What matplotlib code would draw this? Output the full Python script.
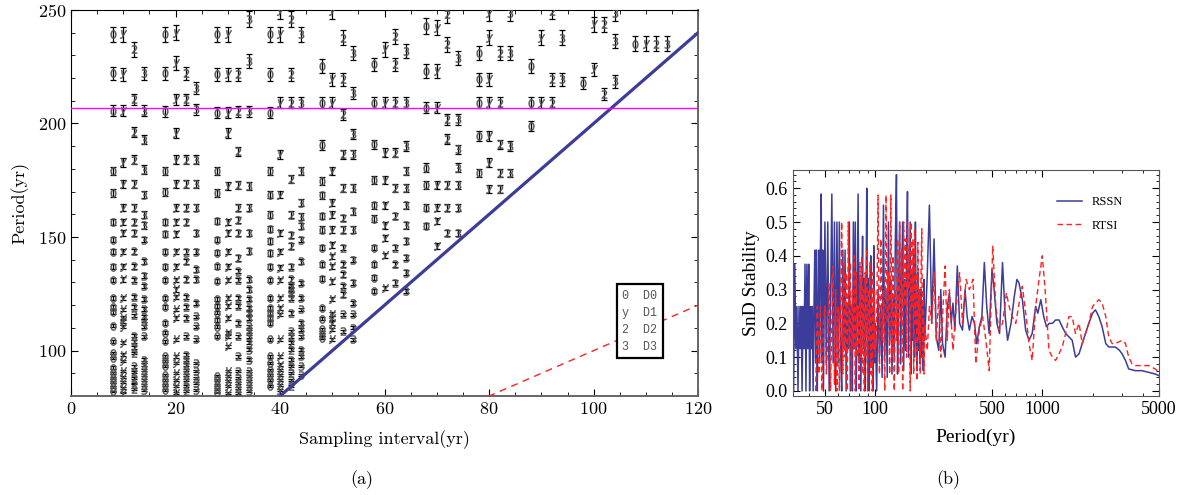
import numpy as np
import matplotlib
matplotlib.use("Agg")
import matplotlib.pyplot as plt
from matplotlib.ticker import MultipleLocator, FixedLocator, LogLocator, NullFormatter

plt.rcParams["font.family"] = "serif"
plt.rcParams["font.serif"] = ["cmr10", "DejaVu Serif"]
plt.rcParams["axes.formatter.use_mathtext"] = True

# ---- (a) periods detected at each sampling interval (yr) ----
D0 = {
    8: [239.2, 222.0, 205.7, 179.0, 169.5, 156.7, 148.9, 143.5, 136.9, 131.0, 123.2, 119.3, 116.9,
        111.0, 104.1, 99.0, 96.8, 92.5, 90.3, 88.0, 86.0, 84.0, 82.0],
    18: [239.2, 222.0, 205.4, 179.0, 169.8, 156.7, 151.5, 143.5, 136.9, 131.0, 123.2, 119.2, 112.2,
         107.8, 104.1, 97.5, 95.3, 93.1, 89.4, 87.2, 85.0, 82.8],
    28: [239.2, 221.6, 204.7, 179.0, 169.5, 157.0, 148.9, 143.1, 137.2, 130.6, 122.6, 119.6, 116.7,
         113.5, 110.5, 106.4, 89.0, 87.0, 85.0, 83.0, 81.5],
    38: [239.2, 221.6, 204.7, 179.0, 168.7, 159.9, 153.6, 148.2, 143.0, 136.9, 131.0, 123.2, 118.8,
         116.6, 114.4, 112.2, 104.9, 97.5, 94.6, 91.6, 89.4, 87.2, 84.3],
    48: [225.3, 209.2, 190.4, 174.6, 168.3, 159.2, 153.3, 145.3, 137.9, 131.7, 118.7, 114.1, 109.3,
         107.1, 105.6],
    58: [226.0, 209.2, 190.8, 175.3, 164.0, 158.1, 145.3, 137.9, 132.1, 126.2],
    68: [242.9, 223.1, 207.0, 180.5, 173.1, 162.8, 154.8],
    78: [231.1, 219.4, 209.2, 194.5, 178.3],
    88: [225.3, 209.2, 198.8],
    98: [217.9],
    108: [235.2],
}
D1 = {
    10: [239.2, 221.6, 205.7, 182.9, 173.4, 162.9, 156.7, 151.8, 143.5, 137.0, 131.3, 123.3, 118.1,
         114.5, 112.9, 110.5, 103.5, 98.2, 95.3, 90.9, 88.5, 86.0, 83.5, 81.5],
    20: [239.9, 226.7, 210.6, 195.9, 184.1, 173.4, 162.9, 156.7, 151.5, 143.5, 136.9, 131.0, 126.9,
         123.6, 118.1, 114.4, 104.9, 97.5, 94.6, 90.2, 87.2, 84.3, 81.4],
    30: [239.2, 221.6, 204.7, 195.9, 172.4, 156.7, 151.8, 143.5, 136.9, 131.0, 123.2, 119.5, 114.4,
         107.8, 106.3, 101.9, 90.9, 88.7, 86.5, 84.3, 81.4],
    40: [249.5, 239.2, 209.2, 186.4, 168.7, 151.8, 143.5, 136.4, 131.0, 123.2, 118.8, 115.9, 104.9,
         97.5, 93.8, 91.6, 89.4, 87.2, 85.0, 82.8],
    50: [249.5, 219.4, 209.2, 179.0, 165.1, 159.9, 153.3, 146.5, 141.5, 137.2, 130.5, 122.5, 116.0,
         114.4, 112.2, 109.3, 104.9],
    60: [232.6, 209.2, 187.1, 175.3, 164.0, 155.1, 149.4, 142.0, 127.6],
    70: [242.2, 223.1, 207.0, 173.1, 162.8, 157.0, 146.0],
    80: [248.8, 237.8, 219.4, 209.2, 194.5, 182.8, 171.0],
    90: [237.8, 209.2],
    100: [243.6, 223.8],
    110: [235.2],
}
D2 = {
    12: [232.6, 210.6, 196.2, 184.1, 173.4, 162.9, 156.7, 151.8, 143.7, 137.1, 131.0, 123.6, 119.2,
         115.5, 106.5, 104.0, 101.5, 99.0, 93.0, 90.5, 88.0, 85.5, 83.0],
    22: [222.0, 210.6, 184.1, 173.4, 162.9, 156.7, 143.5, 139.4, 131.3, 123.6, 119.2, 114.4, 106.3,
         98.2, 96.0, 93.8, 91.6, 89.4, 87.2, 84.3, 82.1],
    32: [221.6, 205.4, 187.8, 173.1, 162.9, 157.5, 151.8, 140.8, 135.0, 131.0, 123.2, 119.5, 112.2,
         106.3, 97.5, 90.9, 88.0, 85.7, 83.6, 81.4],
    42: [245.8, 221.6, 209.2, 175.7, 159.9, 151.1, 146.0, 136.9, 131.3, 128.4, 126.9, 125.4, 123.2,
         116.6, 108.5, 106.3, 103.4, 100.4, 96.0, 93.1, 90.2, 87.2, 84.5],
    52: [237.8, 219.4, 204.0, 186.4, 171.7, 158.4, 153.3, 145.3, 137.9, 133.5, 128.4, 124.7, 115.9,
         108.5],
    62: [238.5, 226.0, 209.2, 187.1, 171.7, 159.2, 145.3, 137.9, 129.9],
    72: [248.0, 234.8, 201.8, 193.0, 173.1, 162.8, 151.9],
    82: [231.1, 209.2, 190.8, 178.3, 171.0],
    92: [249.5, 219.4, 209.2],
    102: [243.6, 212.8],
    112: [235.2],
}
D3 = {
    14: [222.0, 205.7, 192.9, 179.7, 168.7, 159.9, 155.1, 148.9, 139.4, 133.0, 128.4, 122.5, 118.4,
         114.7, 113.2, 110.7, 106.3, 96.0, 93.8, 91.6, 89.4, 87.2, 85.0, 82.8],
    24: [215.7, 206.2, 184.1, 173.4, 162.9, 151.8, 143.5, 135.7, 131.3, 121.0, 115.1, 110.7, 104.9,
         94.6, 90.9, 88.0, 85.7, 82.8],
    34: [245.8, 227.5, 205.4, 172.4, 162.9, 151.8, 143.8, 131.3, 126.9, 122.5, 118.8, 116.6, 114.4,
         110.7, 108.5, 106.3, 103.4, 100.4, 96.0, 90.9, 88.7, 86.5, 84.3, 82.1],
    44: [239.2, 209.2, 179.0, 165.1, 159.0, 154.8, 148.9, 139.4, 129.8, 123.2, 118.1, 112.2, 109.3,
         106.3, 100.4, 97.5, 93.1, 89.4],
    54: [231.1, 213.5, 195.2, 186.4, 171.7, 161.4, 153.3, 140.1, 129.9, 121.1, 115.9, 110.1, 105.0],
    64: [231.9, 209.2, 190.1, 179.0, 171.7, 164.0, 155.1, 148.1, 140.9, 134.3, 126.2],
    74: [228.9, 201.8, 188.6, 180.5, 173.1, 162.8, 151.9],
    84: [248.8, 231.1, 190.1, 178.3],
    94: [237.8, 219.4],
    104: [248.8, 236.3, 218.6],
    114: [235.2],
}
SERIES = [("D0", "$0$", D0), ("D1", "$y$", D1), ("D2", "$2$", D2), ("D3", "$3$", D3)]
ERR_SCALE = 5.8e-5      # period resolution ~ k * P^2
REF_PERIOD = 207        # magenta line
NYQ_RATIO = 2           # blue line: period = 2 * interval
EQ_RATIO = 1            # red dashed: period = interval

# ---- (b) SnD stability vs period ----
RSSN_GRID = np.concatenate([np.arange(32, 50, 0.5), np.arange(50, 100, 1), np.arange(100, 200, 2)])
RSSN_GRID_V = [
    0.375, 0.0, 0.375, 0.125, 0.25, 0.0, 0.25, 0.125, 0.25, 0.0,
    0.25, 0.125, 0.375, 0.0, 0.375, 0.125, 0.375, 0.0, 0.25, 0.125,
    0.25, 0.0, 0.25, 0.417, 0.083, 0.417, 0.0, 0.25, 0.417, 0.083,
    0.417, 0.583, 0.083, 0.417, 0.0, 0.25,
    0.5, 0.083, 0.5, 0.0, 0.25, 0.583, 0.083, 0.5, 0.0, 0.5,
    0.083, 0.5, 0.125, 0.0, 0.417, 0.125, 0.417, 0.0, 0.25, 0.125,
    0.5, 0.0, 0.25, 0.0, 0.5, 0.125, 0.5, 0.0, 0.25, 0.583,
    0.083, 0.333, 0.0, 0.25, 0.458, 0.125, 0.333, 0.0, 0.25, 0.6,
    0.083, 0.333, 0.0, 0.167, 0.4, 0.083, 0.25, 0.0, 0.43, 0.083,
    0.2, 0.0, 0.3, 0.1, 0.25, 0.04, 0.55, 0.1, 0.3, 0.04,
    0.5, 0.15, 0.33, 0.05, 0.28, 0.1, 0.45, 0.64, 0.05, 0.3,
    0.5, 0.08, 0.35, 0.5, 0.06, 0.33, 0.12, 0.4, 0.59, 0.1,
    0.3, 0.5, 0.05, 0.35, 0.15, 0.42, 0.1, 0.5, 0.2, 0.06,
    0.35, 0.12, 0.28, 0.08, 0.3, 0.1, 0.25, 0.06, 0.33, 0.15,
]
RSSN_TAIL_P = [205, 211, 218, 225, 232, 240, 247, 253, 262, 270, 278, 285, 292, 300, 310, 320, 333,
               345, 355, 366, 380, 393, 405, 420, 435, 450, 465, 481, 500, 515, 535, 555, 578, 600,
               620, 650, 680, 705, 725, 760, 795, 833, 870, 913, 940, 980, 1020, 1060, 1100, 1150,
               1201, 1260, 1316, 1380, 1443, 1510, 1581, 1660, 1733, 1815, 1899, 2000, 2081, 2180,
               2281, 2400, 2500, 2739, 2900, 3002, 3150, 3290, 3606, 3952, 4331, 4746, 5000]
RSSN_TAIL_V = [0.35, 0.55, 0.2, 0.45, 0.16, 0.12, 0.3, 0.14, 0.1, 0.25, 0.29, 0.2, 0.26, 0.18, 0.37,
               0.2, 0.18, 0.3, 0.22, 0.18, 0.22, 0.2, 0.14, 0.19, 0.22, 0.38, 0.25, 0.17, 0.36, 0.3,
               0.2, 0.17, 0.38, 0.22, 0.15, 0.2, 0.28, 0.33, 0.32, 0.27, 0.18, 0.15, 0.17, 0.25, 0.23,
               0.27, 0.22, 0.19, 0.2, 0.2, 0.21, 0.21, 0.19, 0.17, 0.16, 0.15, 0.1, 0.11, 0.14, 0.17,
               0.2, 0.23, 0.24, 0.22, 0.19, 0.14, 0.13, 0.13, 0.12, 0.11, 0.09, 0.065, 0.06, 0.06,
               0.055, 0.05, 0.045]

RTSI_GRID = np.concatenate([np.arange(44, 100, 1), np.arange(100, 200, 2)])
RTSI_GRID_V = [
    0.0, 0.25, 0.05, 0.25, 0.0, 0.2,
    0.25, 0.05, 0.15, 0.32, 0.0, 0.2, 0.37, 0.02, 0.3, 0.0,
    0.25, 0.0, 0.2, 0.5, 0.05, 0.38, 0.1, 0.35, 0.0, 0.5,
    0.13, 0.38, 0.0, 0.3, 0.12, 0.4, 0.0, 0.35, 0.1, 0.25,
    0.0, 0.38, 0.1, 0.4, 0.05, 0.3, 0.0, 0.35, 0.1, 0.42,
    0.0, 0.3, 0.15, 0.38, 0.05, 0.25, 0.0, 0.35, 0.12, 0.3,
    0.1, 0.2, 0.58, 0.05, 0.45, 0.15, 0.3, 0.0, 0.58, 0.2,
    0.35, 0.05, 0.58, 0.1, 0.4, 0.0, 0.3, 0.15, 0.45, 0.05,
    0.5, 0.2, 0.42, 0.0, 0.5, 0.25, 0.45, 0.1, 0.5, 0.3,
    0.42, 0.0, 0.5, 0.25, 0.45, 0.05, 0.48, 0.2, 0.35, 0.03,
    0.44, 0.15, 0.3, 0.05, 0.35, 0.48, 0.1, 0.3, 0.05, 0.2,
]
RTSI_TAIL_P = [205, 211, 218, 225, 232, 240, 247, 253, 262, 270, 278, 292, 305, 320, 333, 350, 366,
               385, 400, 420, 439, 460, 481, 505, 527, 550, 578, 610, 633, 660, 694, 727, 760, 800,
               833, 870, 913, 950, 1000, 1040, 1096, 1150, 1201, 1260, 1316, 1380, 1443, 1510, 1581,
               1660, 1733, 1815, 1899, 2000, 2081, 2181, 2281, 2400, 2500, 2620, 2739, 3002, 3150,
               3290, 3450, 3606, 3952, 4331, 4746, 5000]
RTSI_TAIL_V = [0.12, 0.25, 0.2, 0.35, 0.15, 0.28, 0.1, 0.22, 0.37, 0.15, 0.3, 0.12, 0.25, 0.35, 0.2,
               0.33, 0.3, 0.33, 0.08, 0.18, 0.22, 0.15, 0.06, 0.43, 0.25, 0.18, 0.2, 0.29, 0.25,
               0.22, 0.2, 0.26, 0.31, 0.22, 0.14, 0.09, 0.25, 0.32, 0.4, 0.3, 0.12, 0.1, 0.09, 0.11,
               0.13, 0.17, 0.22, 0.22, 0.17, 0.2, 0.14, 0.17, 0.2, 0.25, 0.26, 0.27, 0.26, 0.22,
               0.16, 0.14, 0.14, 0.15, 0.14, 0.1, 0.08, 0.075, 0.075, 0.075, 0.065, 0.055]

BLUE = "#3c3c9a"
RED = "#ff2020"


def draw_intervals(ax):
    for label, mk, table in SERIES:
        xs, ys = [], []
        for interval, periods in table.items():
            xs += [interval] * len(periods)
            ys += periods
        ys = np.array(ys)
        ax.errorbar(xs, ys, yerr=ERR_SCALE * ys ** 2, fmt="none", ecolor="black",
                    elinewidth=0.9, capsize=2.2, capthick=0.9, zorder=3)
        ax.plot(xs, ys, ls="none", marker=mk, color="#555555", ms=6, mew=0.3, zorder=4)

    xl = np.array([0, 125])
    ax.plot(xl, NYQ_RATIO * xl, color=BLUE, lw=2.3, zorder=5)
    ax.plot(xl, EQ_RATIO * xl, color=RED, lw=1.0, ls=(0, (5, 4)), zorder=5)
    ax.axhline(REF_PERIOD, color="#ff00ff", lw=1.0, zorder=5)

    ax.set_xlim(0, 120)
    ax.set_ylim(80, 250)
    ax.xaxis.set_major_locator(MultipleLocator(20))
    ax.xaxis.set_minor_locator(MultipleLocator(5))
    ax.yaxis.set_major_locator(FixedLocator([100, 150, 200, 250]))
    ax.yaxis.set_minor_locator(MultipleLocator(10))
    ax.tick_params(which="both", direction="in", top=True, right=True, labelsize=13)
    ax.tick_params(which="major", length=5)
    ax.tick_params(which="minor", length=3)
    for side in ("bottom", "right"):
        ax.spines[side].set_color("#666666")
        ax.spines[side].set_linewidth(1.4)
    ax.set_xlabel("Sampling interval(yr)", fontsize=13, labelpad=10)
    ax.set_ylabel("Period(yr)", fontsize=13, labelpad=6)

    ax.text(0.907, 0.194, "0  D0\ny  D1\n2  D2\n3  D3", transform=ax.transAxes,
            family="Liberation Mono", fontsize=8.5, color="#555555", ha="center", va="center",
            linespacing=1.55, zorder=6,
            bbox=dict(boxstyle="square,pad=0.45", fc="white", ec="black", lw=1.6))


def draw_stability(ax):
    ax.plot(np.concatenate([RSSN_GRID, RSSN_TAIL_P]), RSSN_GRID_V + RSSN_TAIL_V,
            color=BLUE, lw=1.1, label="RSSN")
    ax.plot(np.concatenate([RTSI_GRID, RTSI_TAIL_P]), RTSI_GRID_V + RTSI_TAIL_V,
            color=RED, lw=1.0, ls=(0, (4, 2.5)), label="RTSI")

    ax.set_xscale("log")
    ax.set_xlim(32, 5000)
    ax.set_ylim(-0.015, 0.654)
    ax.xaxis.set_major_locator(FixedLocator([50, 100, 500, 1000, 5000]))
    ax.xaxis.set_major_formatter(matplotlib.ticker.FixedFormatter(["50", "100", "500", "1000", "5000"]))
    ax.xaxis.set_minor_locator(LogLocator(base=10, subs=np.arange(2, 10)))
    ax.xaxis.set_minor_formatter(NullFormatter())
    ax.yaxis.set_major_locator(MultipleLocator(0.1))
    ax.yaxis.set_minor_locator(MultipleLocator(0.02))
    ax.yaxis.set_major_formatter(matplotlib.ticker.FormatStrFormatter("%.1f"))
    ax.tick_params(which="both", direction="in", top=True, right=True, labelsize=13)
    ax.tick_params(which="major", length=5)
    ax.tick_params(which="minor", length=2.5)
    for lab in ax.get_xticklabels() + ax.get_yticklabels():
        lab.set_family("Liberation Serif")
    for sp in ax.spines.values():
        sp.set_color("#555555")
    ax.set_xlabel("Period(yr)", fontsize=14, family="Liberation Serif", labelpad=8)
    ax.set_ylabel("SnD Stability", fontsize=14, family="Liberation Serif", labelpad=4)
    ax.legend(loc="center left", bbox_to_anchor=(0.69, 0.805), frameon=False,
              prop={"family": "Liberation Serif", "size": 9},
              handlelength=2.0, labelspacing=0.9)


fig = plt.figure(figsize=(11.9, 4.95), dpi=100)
ax_a = fig.add_axes([0.0597, 0.2, 0.527, 0.78])
ax_b = fig.add_axes([0.666, 0.2, 0.308, 0.4566])
draw_intervals(ax_a)
draw_stability(ax_b)
fig.text(0.294, 0.022, "(a)", fontsize=13)
fig.text(0.787, 0.022, "(b)", fontsize=13)
fig.savefig("out.png", dpi=100)
